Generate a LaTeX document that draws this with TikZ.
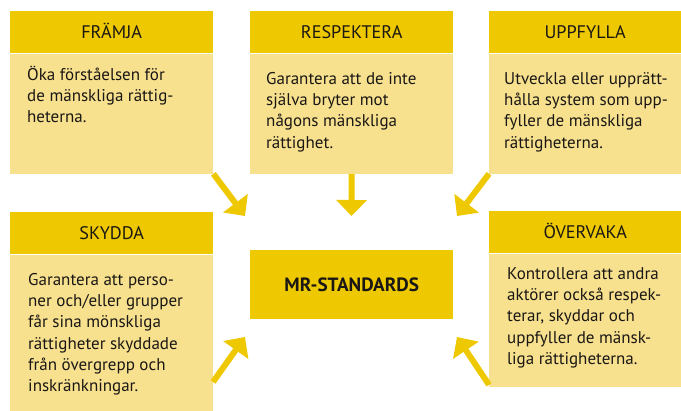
\documentclass[tikz,border=0pt]{standalone}
\usepackage{fontspec}
\setmainfont{PT Sans}
\usetikzlibrary{arrows.meta}
\definecolor{hdr}{RGB}{238,200,0}
\definecolor{bdy}{RGB}{247,225,143}
\definecolor{ink}{RGB}{26,23,20}
\begin{document}
\begin{tikzpicture}[x=1pt,y=-1pt,
  hdrbox/.style={fill=hdr, draw=none, anchor=north west, inner sep=0pt,
    minimum height=42pt, text height=13pt, text depth=0pt, text=ink,
    font=\fontsize{18.2}{20}\selectfont},
  bodybox/.style={fill=bdy, draw=none, anchor=north west, inner sep=0pt},
  bodytext/.style={anchor=north west, inner sep=0pt, align=left, text=ink,
    font=\fontsize{17}{21.3}\selectfont},
  mrbox/.style={fill=hdr, draw=none, anchor=north west, inner sep=0pt,
    minimum width=203pt, minimum height=69pt, text=ink,
    font=\fontsize{19.2}{22}\selectfont\bfseries},
  arr/.style={draw=hdr, line width=6pt, -{Triangle[length=16pt,width=30pt]}}
]
\useasboundingbox (0,0) rectangle (681,411);

% FRAMJA
\node[hdrbox, minimum width=203pt] (fH) at (10,11) {FRÄMJA};
\node[bodybox, minimum width=203pt, minimum height=120pt] (fB) at (fH.south west) {};
\node[bodytext] (fT) at (27,63) {\rule{0pt}{17pt}Öka förståelsen för\\de mänskliga rättig-\\heterna.};

% RESPEKTERA
\node[hdrbox, minimum width=203pt] (rH) at (250,11) {RESPEKTERA};
\node[bodybox, minimum width=203pt, minimum height=120pt] (rB) at (rH.south west) {};
\node[bodytext] (rT) at (266,67) {\rule{0pt}{17pt}Garantera att de inte\\själva bryter mot\\någons mänskliga\\rättighet.};

% UPPFYLLA
\node[hdrbox, minimum width=192pt] (uH) at (489,11) {UPPFYLLA};
\node[bodybox, minimum width=192pt, minimum height=120pt] (uB) at (uH.south west) {};
\node[bodytext] (uT) at (504,67) {\rule{0pt}{17pt}Utveckla eller upprätt-\\hålla system som upp-\\fyller de mänskliga\\rättigheterna.};

% SKYDDA
\node[hdrbox, minimum width=203pt] (sH) at (10,212) {SKYDDA};
\node[bodybox, minimum width=203pt, minimum height=158pt] (sB) at (sH.south west) {};
\node[bodytext] (sT) at (28,268) {\rule{0pt}{17pt}Garantera att perso-\\ner och/eller grupper\\får sina mönskliga\\rättigheter skyddade\\från övergrepp och\\inskränkningar.};

% OVERVAKA
\node[hdrbox, minimum width=192pt] (oH) at (489,211) {ÖVERVAKA};
\node[bodybox, minimum width=192pt, minimum height=133pt] (oB) at (oH.south west) {};
\node[bodytext] (oT) at (507,262) {\rule{0pt}{17pt}Kontrollera att andra\\aktörer också respek-\\terar, skyddar och\\uppfyller de mänsk-\\liga rättigheterna.};

% MR-STANDARDS
\node[mrbox] (mr) at (250,250) {MR-STANDARDS};

% arrow targets
\coordinate (t1) at (245,216);
\coordinate (t2) at (351.5,216);
\coordinate (t3) at (457,216);
\coordinate (t4) at (245,337);
\coordinate (t5) at (457,337);
\coordinate (s4) at (213,382);

\draw[arr] (fB.south east) -- (t1);
\draw[arr] (rB.south) -- (t2);
\draw[arr] (uB.south west) -- (t3);
\draw[arr] (s4) -- (t4);
\draw[arr] ([yshift=2pt]oB.south west) -- (t5);
\end{tikzpicture}
\end{document}
